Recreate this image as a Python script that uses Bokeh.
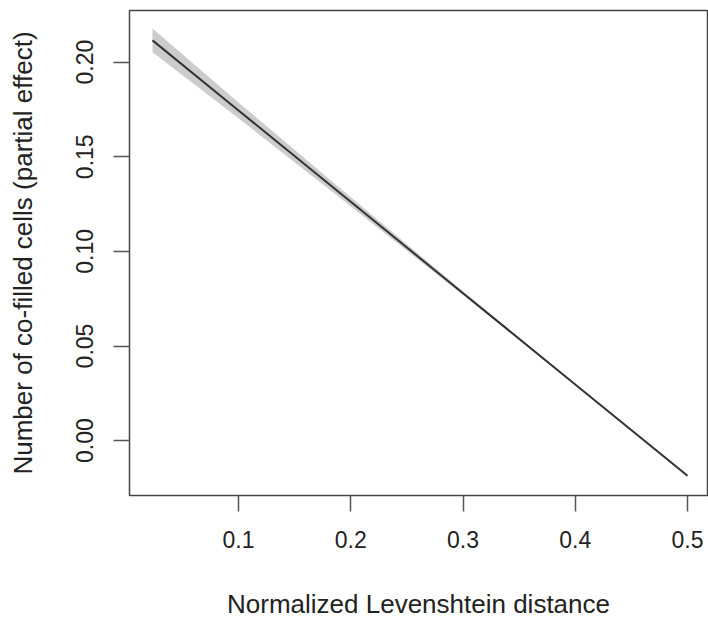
from bokeh.plotting import figure
from bokeh.models import Range1d, FixedTicker, ColumnDataSource
from bokeh.embed import file_html
from bokeh.resources import INLINE

# Data
dist = [0.0234, 0.1, 0.2, 0.3, 0.4, 0.5]
effect = [0.2115, 0.1745, 0.1262, 0.0779, 0.0297, -0.0186]
se = [0.0063, 0.0042, 0.0024, 0.0010, 0.0004, 0.0004]
x_ticks = [0.1, 0.2, 0.3, 0.4, 0.5]
y_ticks = [0.0, 0.05, 0.10, 0.15, 0.20]
y_tick_labels = ["0.00", "0.05", "0.10", "0.15", "0.20"]

upper = [e + s for e, s in zip(effect, se)]
lower = [e - s for e, s in zip(effect, se)]
src = ColumnDataSource(dict(x=dist, y=effect, up=upper, lo=lower))

FONT = "Liberation Sans"

p = figure(width=708, height=621, output_backend="svg", toolbar_location=None,
           x_range=Range1d(0.0029, 0.5178), y_range=Range1d(-0.029, 0.2273),
           min_border_left=129, min_border_right=1, min_border_top=10,
           min_border_bottom=125)
p.background_fill_color = "white"
p.border_fill_color = "white"
p.outline_line_color = "#444444"
p.outline_line_width = 1.5
p.grid.visible = False

p.varea(x="x", y1="lo", y2="up", source=src, fill_color="#cccccc")
p.line(x="x", y="y", source=src, line_color="#333333", line_width=2)

for ax in (p.xaxis[0], p.yaxis[0]):
    ax.axis_line_color = None
    ax.major_tick_in = 0
    ax.major_tick_out = 16
    ax.major_tick_line_color = "#555555"
    ax.major_tick_line_width = 1.5
    ax.minor_tick_line_color = None
    ax.major_label_text_font = FONT
    ax.major_label_text_font_size = "23px"
    ax.major_label_text_color = "#222222"
    ax.axis_label_text_font = FONT
    ax.axis_label_text_font_size = "26px"
    ax.axis_label_text_font_style = "normal"
    ax.axis_label_text_color = "#222222"

p.xaxis.ticker = FixedTicker(ticks=x_ticks)
p.yaxis.ticker = FixedTicker(ticks=y_ticks)
p.yaxis.major_label_overrides = {t: l for t, l in zip(y_ticks, y_tick_labels)}
p.yaxis.major_label_orientation = "vertical"
p.xaxis.axis_label = "Normalized Levenshtein distance"
p.yaxis.axis_label = "Number of co-filled cells (partial effect)"
p.xaxis.major_label_standoff = 19
p.yaxis.major_label_standoff = 20
p.xaxis.axis_label_standoff = 38
p.yaxis.axis_label_standoff = 36

open("out.html", "w").write(file_html(p, INLINE))
